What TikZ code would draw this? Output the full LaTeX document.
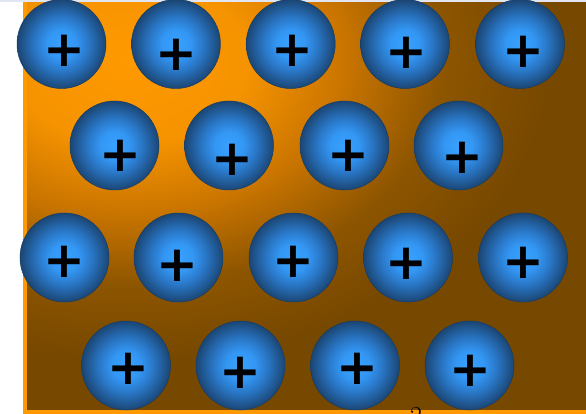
\documentclass[tikz,border=0pt]{standalone}
\usepackage{fontspec}
\newfontfamily\plusfont{DejaVu Sans}[BoldFont={DejaVu Sans Bold}]
\definecolor{amber}{HTML}{FF9900}
\definecolor{amberlow}{HTML}{F59300}
\definecolor{ambermid}{HTML}{CC7600}
\definecolor{amberdark}{HTML}{8D5500}
\definecolor{bronze}{HTML}{774800}
\definecolor{ionhi}{HTML}{38A1FF}
\definecolor{ionmid}{HTML}{3397F4}
\definecolor{ionlow}{HTML}{2A78C8}
\definecolor{iondark}{HTML}{215A96}
\definecolor{ionrim}{HTML}{1B4674}
\definecolor{haze}{HTML}{E2E6F2}
\pgfdeclareradialshading{glow}{\pgfpointorigin}{color(0bp)=(amber); color(7bp)=(amberlow);
  color(12.5bp)=(ambermid); color(18.75bp)=(amberdark); color(25bp)=(bronze); color(50bp)=(bronze)}
\pgfdeclareradialshading{ionball}{\pgfpointorigin}{color(0bp)=(ionhi); color(8bp)=(ionmid);
  color(15bp)=(ionlow); color(21bp)=(iondark); color(25bp)=(ionrim); color(50bp)=(ionrim)}
\begin{document}
\begin{tikzpicture}[x=1pt,y=-1pt,
  ion/.style={circle,minimum size=89pt,inner sep=0pt,shading=ionball,draw=ionrim!85!black,line width=0.5pt},
  charge/.style={inner sep=0pt,font=\plusfont\bfseries\fontsize{50}{50}\selectfont}]
\useasboundingbox (0,0) rectangle (586,414);
\clip (0,0) rectangle (586,414);
% plate
\fill[bronze] (25,-10) rectangle (620,412);
\begin{scope}
  \clip (25,-10) rectangle (620,412);
  \shade[shading=glow] (130,60) ellipse (420 and 300);
\end{scope}
\draw[amber,line width=4pt] (25,-10) rectangle (620,412);
\fill[haze] (0,0) rectangle (586,2);
% rows of ions
\foreach \n/\x/\px/\py in {a/61.5/64/51, b/176/176.3/55, c/290.7/292.8/51, d/405/406/53, e/520/523.7/52}{
  \node[ion] (ion1\n) at (\x,44) {};
  \node[charge] (plus1\n) at (\px,\py) {+};
}
\foreach \n/\x/\px/\py in {a/114.5/120/155.5, b/229/232.8/159.5, c/344.5/348.7/155.5, d/458.5/462/157.8}{
  \node[ion] (ion2\n) at (\x,145.5) {};
  \node[charge] (plus2\n) at (\px,\py) {+};
}
\foreach \n/\x/\px/\py in {a/64.5/64.5/262, b/178.5/177/266, c/293.5/293/262, d/408/406.3/264, e/523/523.8/263}{
  \node[ion] (ion3\n) at (\x,257.5) {};
  \node[charge] (plus3\n) at (\px,\py) {+};
}
\foreach \n/\x/\px/\py in {a/126/128.5/369, b/240.5/240/373, c/355/357/369, d/469.5/470/371}{
  \node[ion] (ion4\n) at (\x,365.5) {};
  \node[charge] (plus4\n) at (\px,\py) {+};
}
\node[anchor=north,inner sep=0pt,font=\fontsize{26}{26}\selectfont] (mark) at (416,407) {2};
\end{tikzpicture}
\end{document}
